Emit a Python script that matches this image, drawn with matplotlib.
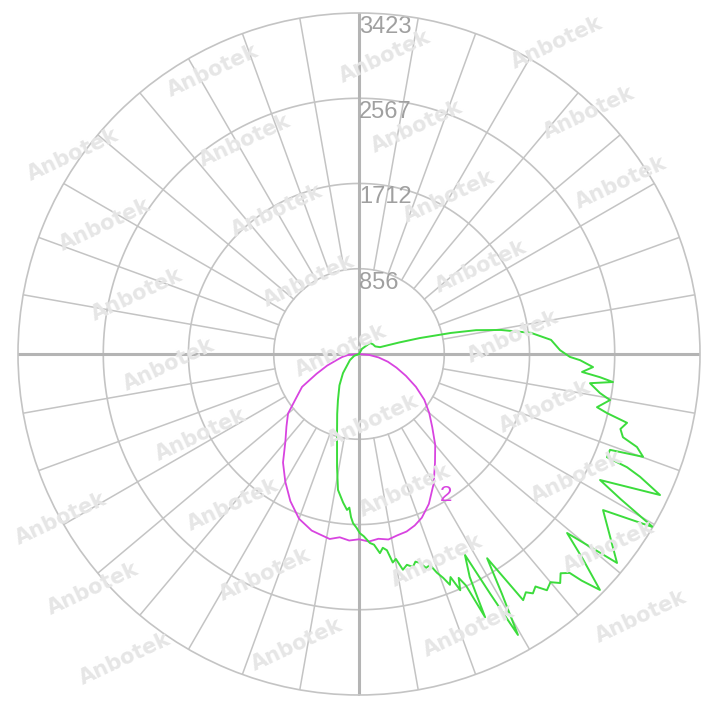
import numpy as np
import matplotlib.pyplot as plt

# luminous intensity (cd) vs angle from nadir (deg), positive = right side
r_max = 3423
ring_values = [856, 1712, 2567, 3423]
ring_labels = ['856', '1712', '2567', '3423']

magenta_deg = [-90, -85, -80, -75, -70, -65, -60, -55, -50, -45, -40, -35, -30,
               -25, -20, -15, -12, -9, -6, -3, 0, 3, 6, 9, 12, 15, 18, 21, 25,
               30, 35, 40, 45, 50, 55, 60, 65, 70, 75, 80, 85, 90]
magenta_cd = [0, 110, 170, 230, 340, 470, 660, 770, 930, 1030, 1150, 1330, 1480,
              1630, 1760, 1835, 1855, 1880, 1850, 1875, 1860, 1885, 1865, 1885,
              1860, 1845, 1810, 1760, 1660, 1500, 1330, 1190, 1040, 920, 800,
              660, 520, 400, 300, 200, 100, 0]

green_deg = [-90, -70, -56, -40, -32, -24.5, -20, -15.6, -11, -8.8, -6.1, -4.4,
             -3.6, -2.8, -2, -0.8, 0.3, 1.5, 3.3, 4.5, 6, 7, 8.1, 9.2, 10.2,
             11.5, 12.8, 14.2, 15.2, 16.3, 17.4, 18.6, 19.6, 20.6, 21.5, 22.3,
             23.2, 24.0, 24.8, 25.6, 26.4, 27.8, 28.7, 29.5, 30.8, 32.1, 33.0,
             33.7, 35.0, 36.0, 37.2, 38.5, 40.0, 41.3, 42.6, 43.9, 44.5, 45.6,
             47.5, 49.3, 51.0, 57.4, 59.5, 61.0, 62.4, 64.9, 66.4, 67.1, 67.4,
             69.1, 70.1, 71.5, 72.5, 74.0, 75.6, 76.6, 77.4, 79.6, 80.8, 82.8,
             83.7, 84.5, 85.4, 86.8, 88.4, 89.2, 91.1, 94.2, 97, 99.6, 101.5,
             102.9, 104.7, 106, 108, 115, 125, 135, 150, 180]
green_cd = [0, 50, 110, 250, 370, 510, 640, 820, 1155, 1380, 1500, 1570,
            1545, 1640, 1700, 1745, 1800, 1830, 1900, 1920, 2010, 1960, 1990,
            2120, 2090, 2210, 2170, 2205, 2160, 2185, 2250, 2235, 2330, 2400,
            2490, 2420, 2580, 2460, 2560, 2930, 2500, 2280, 2750, 3240, 2800,
            2420, 2700, 2970, 2920, 2970, 2930, 3030, 2990, 3060, 2990, 3050,
            3190, 3385, 3050, 2755, 3333, 2908, 3424, 3000, 2730, 3337, 3079,
            2920, 2696, 2697, 3033, 2942, 2778, 2730, 2778, 2559, 2448, 2562,
            2450, 2337, 2565, 2430, 2246, 2353, 2220, 2118, 2018, 1933, 1740,
            1446, 1200, 947, 630, 420, 222, 180, 170, 156, 60, 0]

grid_c = '#c4c4c4'
axis_c = '#b4b4b4'
label_c = '#a0a0a0'
green_c = '#3cdc3c'
magenta_c = '#d844e0'
label_font = ['Liberation Sans', 'DejaVu Sans']

fig = plt.figure(figsize=(7.02, 7.07), dpi=100)
fig.patch.set_facecolor('white')

# faint watermark, kept clear of the edges
for i in range(-2, 6):
    for j in range(-2, 11):
        x = 41 + 172 * i + 32 * j
        y = 85 - 14 * i + 70 * j
        if 60 < x < 645 and 30 < y < 680:
            fig.text(x / 702, 1 - y / 707, 'Anbotek', rotation=25,
                     color='#e6e6e6', fontsize=15, fontweight='bold',
                     ha='center', va='center', zorder=0)

ax = fig.add_axes([18 / 702, 12 / 707, 682 / 702, 682 / 707], projection='polar')
ax.patch.set_alpha(0)
ax.set_theta_zero_location('S')
ax.set_theta_direction(1)
ax.set_ylim(0, r_max)
ax.grid(False)
ax.set_xticks([])
ax.set_yticks([])
ax.spines['polar'].set_color(grid_c)
ax.spines['polar'].set_linewidth(1.2)

full = np.linspace(0, 2 * np.pi, 721)
for rv in ring_values[:-1]:
    ax.plot(full, np.full_like(full, rv), color=grid_c, lw=1.2, zorder=1)

for a in range(0, 360, 10):
    if a % 90:
        ax.plot([np.deg2rad(a)] * 2, [ring_values[0], r_max], color=grid_c,
                lw=1.1, zorder=1)
for a in range(0, 360, 90):
    ax.plot([np.deg2rad(a)] * 2, [0, r_max], color=axis_c, lw=2.2, zorder=1)

for rv, lab in zip(ring_values, ring_labels):
    ax.text(np.pi, rv - 30, lab, color=label_c, fontsize=17, family=label_font,
            ha='left', va='top', zorder=2)

ax.plot(np.deg2rad(magenta_deg), magenta_cd, color=magenta_c, lw=1.3, zorder=3)
ax.plot(np.deg2rad(green_deg), green_cd, color=green_c, lw=1.4, zorder=4)
ax.text(np.deg2rad(29.8), 1640, '2', color=magenta_c, fontsize=16,
        family=label_font, ha='left', va='center', zorder=5)

plt.savefig('out.png', dpi=100, facecolor='white')
